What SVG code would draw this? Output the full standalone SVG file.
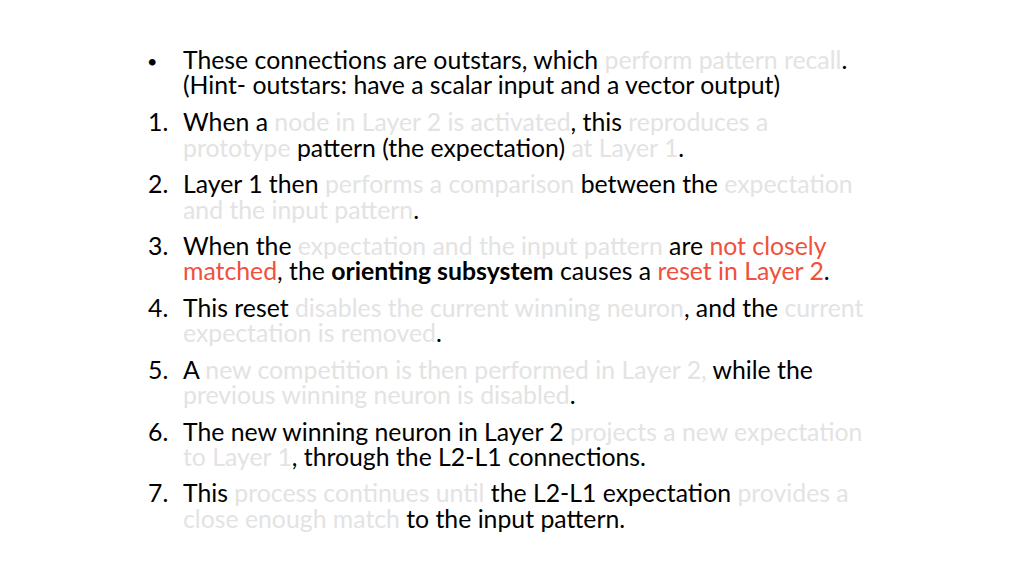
<svg xmlns="http://www.w3.org/2000/svg" width="1024" height="576" viewBox="0 0 1024 576">
<style>
text{font-family:Lato,"Open Sans",sans-serif;font-size:24.8px;fill:#000}
.g{fill:#e3e3e3}.r{fill:#f0503c}.b{font-weight:bold}
</style>
<rect width="1024" height="576" fill="#fff"/>
<g id="text">
<text x="147" y="68" style="font-size:18px">•</text>
<text x="183" y="69">These connections are outstars, which <tspan class="g">perform pattern recall</tspan>.</text>
<text x="183" y="94">(Hint- outstars: have a scalar input and a vector output)</text>
<text x="148" y="131">1.</text>
<text x="183" y="131">When a <tspan class="g">node in Layer 2 is activated</tspan>, this <tspan class="g">reproduces a</tspan></text>
<text x="183" y="157"><tspan class="g">prototype</tspan> pattern (the expectation) <tspan class="g">at Layer 1</tspan>.</text>
<text x="148" y="193">2.</text>
<text x="183" y="193">Layer 1 then <tspan class="g">performs a comparison</tspan> between the <tspan class="g">expectation</tspan></text>
<text x="183" y="219"><tspan class="g">and the input pattern</tspan>.</text>
<text x="148" y="255">3.</text>
<text x="183" y="255">When the <tspan class="g">expectation and the input pattern</tspan> are <tspan class="r">not closely</tspan></text>
<text x="183" y="280"><tspan class="r">matched</tspan>, the <tspan class="b">orienting subsystem</tspan> causes a <tspan class="r">reset in Layer 2</tspan>.</text>
<text x="148" y="317">4.</text>
<text x="183" y="317">This reset <tspan class="g">disables the current winning neuron</tspan>, and the <tspan class="g">current</tspan></text>
<text x="183" y="342"><tspan class="g">expectation is removed</tspan>.</text>
<text x="148" y="379">5.</text>
<text x="183" y="379">A <tspan class="g">new competition is then performed in Layer 2,</tspan> while the</text>
<text x="183" y="404"><tspan class="g">previous winning neuron is disabled</tspan>.</text>
<text x="148" y="441">6.</text>
<text x="183" y="441">The new winning neuron in Layer 2 <tspan class="g">projects a new expectation</tspan></text>
<text x="183" y="466"><tspan class="g">to Layer 1</tspan>, through the L2-L1 connections.</text>
<text x="148" y="502">7.</text>
<text x="183" y="502">This <tspan class="g">process continues until</tspan> the L2-L1 expectation <tspan class="g">provides a</tspan></text>
<text x="183" y="528"><tspan class="g">close enough match</tspan> to the input pattern.</text>
</g>
</svg>
